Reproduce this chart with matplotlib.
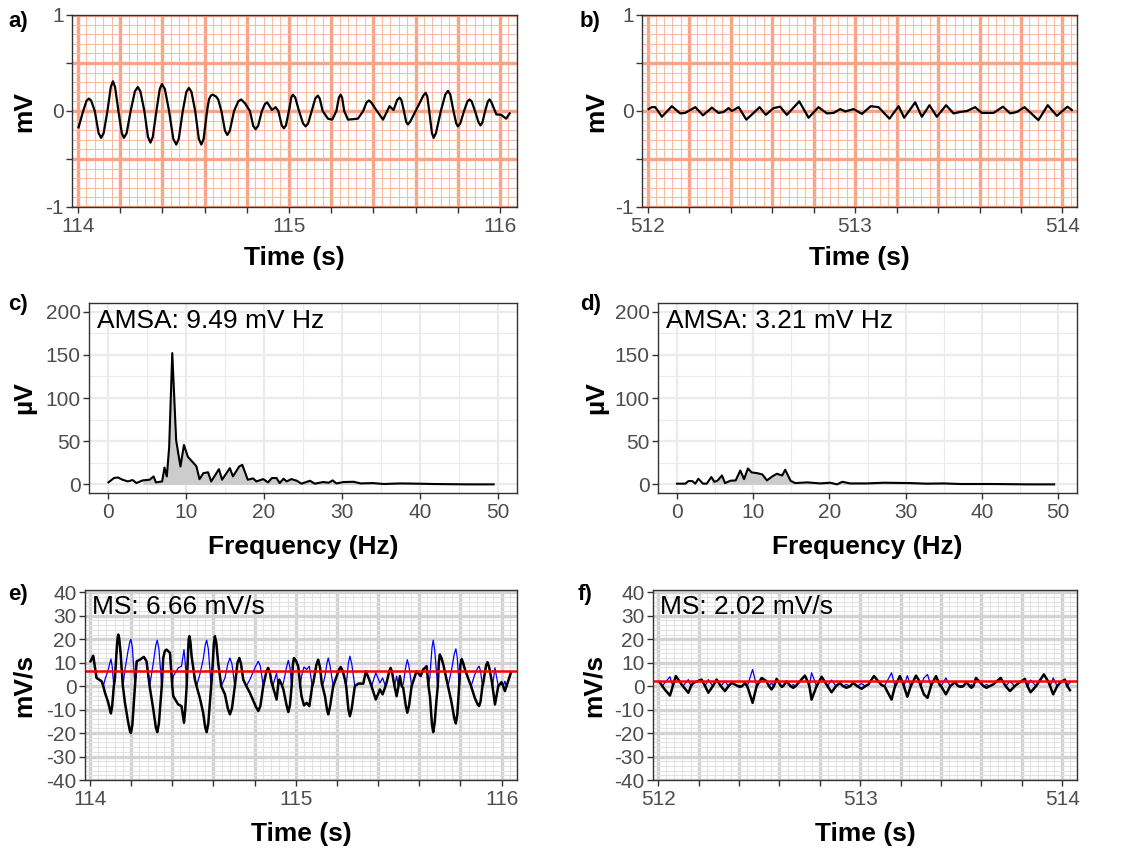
import numpy as np
import matplotlib.pyplot as plt
from matplotlib.ticker import MultipleLocator, FuncFormatter

plt.rcParams['font.family'] = ['Liberation Sans', 'DejaVu Sans']

# ---- data: (time s, value) / (frequency Hz, value) ----
# a) ECG segment 114-116 s (mV)
ecg_a = [(114.003, -0.17), (114.025, 0.0), (114.041, 0.107), (114.052, 0.13), (114.063, 0.107),
         (114.08, 0.0), (114.098, -0.23), (114.11, -0.28), (114.122, -0.23), (114.14, 0.0),
         (114.156, 0.25), (114.166, 0.31), (114.176, 0.25), (114.192, 0.0), (114.208, -0.23),
         (114.218, -0.28), (114.231, -0.23), (114.25, 0.0), (114.27, 0.205), (114.284, 0.25),
         (114.296, 0.205), (114.315, 0.0), (114.332, -0.27), (114.344, -0.33), (114.355, -0.27),
         (114.372, 0.0), (114.388, 0.23), (114.398, 0.28), (114.412, 0.23), (114.432, 0.0),
         (114.452, -0.29), (114.466, -0.35), (114.478, -0.29), (114.497, 0.0), (114.514, 0.2),
         (114.526, 0.24), (114.538, 0.2), (114.556, 0.0), (114.573, -0.29), (114.585, -0.35),
         (114.596, -0.29), (114.612, 0.0), (114.621, 0.12), (114.63, 0.16), (114.64, 0.17),
         (114.655, 0.15), (114.665, 0.12), (114.68, 0.0), (114.697, -0.205), (114.708, -0.25),
         (114.72, -0.205), (114.74, 0.0), (114.76, 0.1), (114.774, 0.12), (114.792, 0.08),
         (114.815, 0.0), (114.831, -0.155), (114.842, -0.19), (114.854, -0.155), (114.872, 0.0),
         (114.887, 0.075), (114.897, 0.09), (114.92, 0.01), (114.937, 0.04), (114.95, 0.0),
         (114.966, -0.15), (114.976, -0.18), (114.986, -0.15), (115.0, 0.0), (115.011, 0.14),
         (115.019, 0.17), (115.03, 0.14), (115.048, 0.0), (115.067, -0.13), (115.079, -0.16),
         (115.091, -0.13), (115.108, 0.0), (115.125, 0.13), (115.137, 0.16), (115.146, 0.13),
         (115.16, 0.0), (115.185, -0.08), (115.205, -0.09), (115.225, 0.0), (115.237, 0.14),
         (115.245, 0.17), (115.252, 0.14), (115.262, 0.0), (115.28, -0.09), (115.327, -0.08),
         (115.352, 0.0), (115.368, 0.09), (115.379, 0.11), (115.39, 0.09), (115.414, 0.01),
         (115.446, -0.09), (115.477, 0.05), (115.496, 0.01), (115.513, 0.115), (115.524, 0.14),
         (115.533, 0.115), (115.545, 0.0), (115.556, -0.115), (115.564, -0.14), (115.575, -0.11),
         (115.611, 0.045), (115.637, 0.16), (115.648, 0.19), (115.656, 0.15), (115.665, 0.0),
         (115.678, -0.23), (115.686, -0.28), (115.697, -0.23), (115.72, 0.0), (115.741, 0.17),
         (115.754, 0.21), (115.765, 0.17), (115.78, 0.0), (115.793, -0.13), (115.801, -0.16),
         (115.812, -0.13), (115.83, 0.0), (115.846, 0.1), (115.856, 0.12), (115.866, 0.1),
         (115.882, 0.0), (115.899, -0.12), (115.908, -0.15), (115.917, -0.12), (115.93, 0.0),
         (115.943, 0.1), (115.951, 0.12), (115.96, 0.09), (115.983, -0.035), (116.006, -0.04),
         (116.03, -0.08), (116.046, -0.025)]

# b) ECG segment 512-514 s (mV)
ecg_b = [(512.005, 0.02), (512.02, 0.04), (512.037, 0.04), (512.069, -0.06), (512.117, 0.05),
         (512.157, -0.025), (512.181, -0.02), (512.23, 0.04), (512.267, -0.045), (512.31, 0.035),
         (512.342, -0.02), (512.366, -0.01), (512.39, 0.03), (512.406, 0.0), (512.439, 0.04),
         (512.476, -0.09), (512.511, -0.02), (512.54, 0.04), (512.57, -0.04), (512.607, 0.03),
         (512.639, 0.045), (512.671, -0.04), (512.731, 0.10), (512.776, -0.07), (512.824, 0.04),
         (512.864, -0.025), (512.896, -0.02), (512.929, 0.02), (512.953, -0.005), (512.993, 0.02),
         (513.033, -0.03), (513.076, 0.05), (513.113, 0.04), (513.166, -0.08), (513.21, 0.05),
         (513.237, -0.07), (513.29, 0.09), (513.322, -0.06), (513.359, 0.06), (513.394, -0.06),
         (513.439, 0.06), (513.475, -0.025), (513.507, -0.01), (513.54, 0.0), (513.579, 0.04),
         (513.611, -0.02), (513.668, -0.02), (513.713, 0.045), (513.748, -0.025), (513.78, -0.01),
         (513.817, 0.04), (513.884, -0.095), (513.929, 0.06), (513.973, -0.05), (514.024, 0.045),
         (514.045, 0.01)]

# c) amplitude spectrum of a (uV)
spec_c = [(0.0, 2.3), (0.7, 7.3), (1.2, 8.0), (1.8, 5.4), (2.5, 3.4), (3.1, 5.0), (3.6, 1.5),
          (4.4, 4.6), (5.3, 5.4), (5.8, 9.2), (6.1, 2.3), (6.9, 3.4), (7.2, 19.5), (7.5, 9.2),
          (7.8, 43.0), (8.2, 152.0), (8.7, 51.0), (9.25, 20.7), (9.7, 45.6), (10.2, 32.0),
          (10.8, 26.0), (11.3, 21.0), (11.7, 6.0), (12.2, 13.0), (12.8, 14.0), (13.2, 3.4),
          (14.2, 17.6), (14.6, 5.4), (15.6, 18.8), (16.0, 9.2), (16.8, 20.7), (17.2, 22.6),
          (17.9, 5.4), (18.6, 6.9), (19.0, 3.4), (19.9, 6.1), (20.5, 2.3), (21.0, 7.3),
          (21.6, 7.3), (22.0, 1.5), (22.5, 6.5), (22.9, 3.4), (23.5, 6.1), (24.2, 4.2),
          (24.8, 0.8), (25.9, 4.2), (26.5, 0.8), (27.6, 2.7), (28.3, 1.9), (28.8, 4.6),
          (29.3, 1.1), (30.2, 2.7), (31.5, 3.0), (32.4, 1.1), (34.0, 1.5), (35.4, 0.4),
          (37.5, 1.1), (39.7, 0.8), (41.8, 0.4), (46.1, 0.0), (49.5, 0.0)]

# d) amplitude spectrum of b (uV)
spec_d = [(0.0, 0.8), (1.1, 0.8), (1.5, 3.8), (2.0, 3.8), (2.4, 0.8), (2.8, 6.5), (3.4, 0.8),
          (3.9, 0.8), (4.5, 8.4), (4.9, 3.0), (5.3, 4.2), (5.9, 10.3), (6.3, 1.5), (7.0, 4.2),
          (7.7, 4.6), (8.3, 16.0), (8.8, 6.1), (9.3, 18.4), (9.8, 13.8), (10.5, 13.0),
          (11.2, 11.5), (11.8, 4.6), (12.5, 9.2), (13.1, 12.3), (13.8, 10.3), (14.2, 16.9),
          (14.9, 4.2), (15.5, 1.5), (17.1, 2.3), (18.8, 1.1), (20.1, 1.9), (21.0, 0.0),
          (21.7, 3.0), (22.7, 1.1), (24.9, 1.1), (27.1, 1.9), (30.6, 1.5), (32.8, 0.8),
          (35.0, 1.1), (37.2, 0.4), (41.6, 0.4), (45.9, 0.0), (49.5, 0.0)]

# e) slope of a (mV/s)
slope_e = [(114.003, 10.6), (114.016, 13.0), (114.032, 3.5), (114.057, 2.1), (114.065, 0.0),
           (114.073, -2.8), (114.089, -7.0), (114.097, -10.0), (114.102, -11.6), (114.108, -8.5),
           (114.116, 0.0), (114.121, 2.8), (114.131, 17.0), (114.135, 21.0), (114.138, 22.0),
           (114.142, 20.5), (114.149, 14.0), (114.16, 0.0), (114.17, -7.0), (114.185, -15.0),
           (114.194, -19.0), (114.199, -20.0), (114.206, -16.5), (114.219, 0.0), (114.227, 10.6),
           (114.243, 11.3), (114.262, 12.5), (114.275, 10.6), (114.29, 0.0), (114.308, -10.0),
           (114.32, -17.5), (114.327, -19.6), (114.335, -16.0), (114.343, -7.0), (114.349, 0.0),
           (114.356, 12.0), (114.364, 15.0), (114.372, 15.6), (114.389, 14.2), (114.4, 0.0),
           (114.405, -4.3), (114.429, -7.8), (114.445, -8.5), (114.452, -12.5), (114.457, -15.6),
           (114.463, -10.0), (114.47, 0.0), (114.477, 15.0), (114.48, 20.0), (114.483, 21.3),
           (114.488, 19.0), (114.494, 12.8), (114.51, 2.8), (114.518, 0.0), (114.534, -5.0),
           (114.55, -11.3), (114.56, -17.5), (114.567, -19.6), (114.575, -16.0), (114.583, -7.0),
           (114.589, 0.0), (114.596, 8.5), (114.602, 18.0), (114.607, 21.3), (114.614, 18.5),
           (114.623, 10.0), (114.638, 0.0), (114.656, -3.5), (114.67, -9.5), (114.68, -12.0),
           (114.69, -9.5), (114.704, 0.0), (114.717, 10.0), (114.726, 12.0), (114.734, 9.5),
           (114.745, 2.8), (114.76, 0.0), (114.777, -2.8), (114.805, -8.5), (114.818, -10.6),
           (114.828, -8.5), (114.842, 0.0), (114.858, 6.5), (114.866, 7.8), (114.875, 5.5),
           (114.883, 1.4), (114.888, 0.0), (114.907, -5.7), (114.914, 0.0), (114.92, 2.8),
           (114.93, 1.0), (114.934, 0.0), (114.94, -1.4), (114.955, -8.0), (114.964, -11.0),
           (114.972, -8.0), (114.98, 0.0), (114.986, 9.0), (114.991, 12.0), (115.0, 11.0),
           (115.012, 8.5), (115.022, 0.0), (115.028, -4.3), (115.04, -8.2), (115.053, -7.1),
           (115.066, -8.5), (115.08, 0.0), (115.085, 1.4), (115.1, 9.0), (115.109, 11.3),
           (115.118, 8.0), (115.126, 1.4), (115.13, 0.0), (115.142, -4.3), (115.152, -10.0),
           (115.158, -12.0), (115.166, -9.0), (115.182, 0.0), (115.21, 7.0), (115.218, 8.2),
           (115.228, 6.5), (115.239, 2.8), (115.245, 0.0), (115.256, -10.0), (115.263, -12.8),
           (115.272, -9.5), (115.287, 0.0), (115.304, 1.1), (115.328, 1.1), (115.341, 6.4),
           (115.36, 2.1), (115.368, 0.0), (115.389, -5.7), (115.409, -1.4), (115.422, -3.5),
           (115.436, 0.0), (115.441, 1.4), (115.455, 6.5), (115.461, 7.8), (115.468, 6.0),
           (115.474, 2.8), (115.48, 0.0), (115.49, -4.3), (115.499, 0.0), (115.506, 4.3),
           (115.515, 0.0), (115.522, -0.7), (115.535, -8.5), (115.542, -11.3), (115.55, -8.5),
           (115.563, 0.0), (115.587, 6.4), (115.607, 4.3), (115.619, 7.1), (115.636, 8.5),
           (115.645, 0.0), (115.652, -4.3), (115.662, -16.5), (115.668, -19.6), (115.675, -15.5),
           (115.684, -5.7), (115.69, 0.0), (115.695, 10.0), (115.7, 13.5), (115.708, 12.0),
           (115.717, 9.2), (115.733, 2.8), (115.74, 0.0), (115.757, -7.0), (115.771, -14.0),
           (115.778, -15.9), (115.785, -12.0), (115.794, 0.0), (115.8, 9.0), (115.806, 11.6),
           (115.813, 10.0), (115.822, 7.1), (115.846, 1.4), (115.852, 0.0), (115.87, -5.0),
           (115.884, -7.8), (115.891, -8.5), (115.898, -6.5), (115.907, 0.0), (115.911, 1.4),
           (115.925, 9.0), (115.932, 10.2), (115.94, 8.0), (115.951, 2.8), (115.956, 0.0),
           (115.968, -7.8), (115.984, 0.0), (116.0, 1.7), (116.008, 0.0), (116.016, -2.1),
           (116.024, 0.0), (116.044, 5.4)]

# f) slope of b (mV/s)
slope_f = [(512.008, 1.7), (512.02, 0.0), (512.033, -1.5), (512.058, -4.0), (512.072, 0.0),
           (512.087, 4.3), (512.116, 0.7), (512.122, 0.0), (512.149, -2.8), (512.162, 0.0),
           (512.173, 1.4), (512.215, 2.8), (512.232, 0.0), (512.248, -2.8), (512.27, 0.0),
           (512.289, 2.8), (512.31, 0.0), (512.33, -2.1), (512.348, 0.0), (512.363, 1.4),
           (512.38, 0.7), (512.395, 0.0), (512.404, -0.3), (512.415, 0.0), (512.429, 1.4),
           (512.44, 0.0), (512.446, -1.4), (512.467, -7.1), (512.487, 0.0), (512.512, 3.5),
           (512.536, 2.1), (512.548, 0.0), (512.561, -1.4), (512.572, 0.0), (512.586, 3.1),
           (512.608, 0.0), (512.611, -0.3), (512.618, 0.0), (512.635, 2.1), (512.655, 0.0),
           (512.668, -0.7), (512.68, 0.0), (512.701, 2.1), (512.726, 4.5), (512.743, 1.4),
           (512.748, 0.0), (512.759, -5.7), (512.784, 0.0), (512.809, 4.0), (512.833, 0.7),
           (512.838, 0.0), (512.858, -2.6), (512.88, 0.0), (512.899, 1.4), (512.915, 0.0),
           (512.932, -0.7), (512.95, 0.0), (512.965, 1.4), (512.985, 0.0), (513.007, -1.1),
           (513.025, 0.0), (513.04, 0.7), (513.068, 4.3), (513.089, 2.1), (513.105, 0.5),
           (513.12, 0.0), (513.155, -5.7), (513.172, 0.0), (513.177, 0.7), (513.196, 4.3),
           (513.21, 1.5), (513.216, 0.0), (513.233, -4.5), (513.25, 0.0), (513.254, 0.7),
           (513.276, 4.5), (513.29, 2.5), (513.3, 0.0), (513.315, -3.5), (513.333, -5.0),
           (513.35, 0.0), (513.353, 0.7), (513.375, 4.3), (513.395, 0.3), (513.4, 0.0),
           (513.424, -3.5), (513.445, 0.0), (513.469, 1.7), (513.485, 0.0), (513.5, -0.3),
           (513.51, 0.0), (513.526, 1.7), (513.542, 0.0), (513.55, -0.7), (513.56, 0.0),
           (513.573, 3.5), (513.596, 1.4), (513.61, 0.0), (513.625, -0.7), (513.64, 0.0),
           (513.657, 0.7), (513.695, 3.5), (513.72, 0.0), (513.741, -2.1), (513.765, 0.0),
           (513.774, 0.7), (513.815, 3.1), (513.828, 0.0), (513.843, -2.6), (513.87, 0.0),
           (513.909, 5.0), (513.93, 2.1), (513.94, 0.0), (513.955, -3.5), (513.975, 0.0),
           (513.988, 1.4), (514.013, 2.8), (514.025, 0.0), (514.038, -1.7)]

amsa_c, amsa_d = 9.49, 3.21
ms_e, ms_f = 6.66, 2.02

# ---- figure ----
W, H = 1130, 852
fig = plt.figure(figsize=(W / 100, H / 100), dpi=100)

TICK_COL = '#4D4D4D'
EDGE_COL = '#333333'


def axes_px(l, t, r, b):
    return fig.add_axes([l / W, 1 - b / H, (r - l) / W, (b - t) / H])


def fig_xy(x, y):
    return x / W, 1 - y / H


def int_only(v, pos):
    return f'{v:.0f}' if abs(v - round(v)) < 1e-6 else ''


def style(ax, xlabel, ylabel, ylab_x, xlab_y):
    for s in ax.spines.values():
        s.set_color(EDGE_COL)
        s.set_linewidth(1.0)
    ax.tick_params(which='major', length=4, width=1, color=EDGE_COL,
                   labelcolor=TICK_COL, labelsize=15, pad=2)
    ax.tick_params(axis='x', which='major', pad=3)
    ax.tick_params(which='minor', length=0)
    ax.set_axisbelow(True)
    ax.set_xlabel(xlabel, fontsize=19, fontweight='bold')
    ax.set_ylabel(ylabel, fontsize=19, fontweight='bold', va='center')
    bb = ax.get_position()
    ax.xaxis.set_label_coords((bb.x0 + bb.x1) / 2, 1 - xlab_y / H, transform=fig.transFigure)
    ax.yaxis.set_label_coords(ylab_x / W, (bb.y0 + bb.y1) / 2, transform=fig.transFigure)


def paper_grid(ax, xmaj, xmin, ymaj, ymin, major_col, minor_col):
    ax.xaxis.set_major_locator(MultipleLocator(xmaj))
    ax.xaxis.set_minor_locator(MultipleLocator(xmin))
    ax.yaxis.set_major_locator(MultipleLocator(ymaj))
    ax.yaxis.set_minor_locator(MultipleLocator(ymin))
    ax.grid(which='minor', color=minor_col, lw=0.8)
    ax.grid(which='major', color=major_col, lw=2.4)


# a) and b): ECG on salmon paper
for ax_box, trace, tag, tag_x, xlim in [
        ((72, 15, 517, 207), ecg_a, 'a)', 8, (113.972, 116.081)),
        ((642, 15, 1077, 207), ecg_b, 'b)', 580, (511.973, 514.07))]:
    ax = axes_px(*ax_box)
    t, v = zip(*trace)
    ax.plot(t, v, color='black', lw=1.6, solid_joinstyle='round')
    ax.set_xlim(*xlim)
    ax.set_ylim(-1, 1)
    paper_grid(ax, 0.2, 0.04, 0.5, 0.1, '#FBA385', '#FBBBA5')
    ax.xaxis.set_major_formatter(FuncFormatter(int_only))
    ax.yaxis.set_major_formatter(FuncFormatter(int_only))
    style(ax, 'Time (s)', 'mV', tag_x + 16, 246)
    fig.text(*fig_xy(tag_x, 27), tag, fontsize=16, fontweight='bold', va='baseline')

# c) and d): spectra
for ax_box, spec, tag, tag_x, label in [
        ((89, 303, 517, 493), spec_c, 'c)', 8, f'AMSA: {amsa_c:.2f} mV Hz'),
        ((658, 303, 1077, 493), spec_d, 'd)', 580, f'AMSA: {amsa_d:.2f} mV Hz')]:
    ax = axes_px(*ax_box)
    f, a = (np.array(c) for c in zip(*spec))
    band = (f >= 4) & (f <= 48)
    ax.fill_between(f, 0, a, where=band, color='#CCCCCC', lw=0)
    ax.plot(f, a, color='black', lw=1.5, solid_joinstyle='round')
    ax.set_xlim(-2.5, 52.5)
    ax.set_ylim(-10, 210)
    ax.xaxis.set_major_locator(MultipleLocator(10))
    ax.xaxis.set_minor_locator(MultipleLocator(5))
    ax.yaxis.set_major_locator(MultipleLocator(50))
    ax.yaxis.set_minor_locator(MultipleLocator(25))
    ax.grid(which='major', color='#EBEBEB', lw=1.6)
    ax.grid(which='minor', color='#EBEBEB', lw=0.8)
    style(ax, 'Frequency (Hz)', 'µV', tag_x + 16, 535)
    fig.text(*fig_xy(ax_box[0] + 8, 328), label, fontsize=19, ha='left', va='baseline')
    fig.text(*fig_xy(tag_x, 310), tag, fontsize=16, fontweight='bold', va='baseline')

# e) and f): slopes on gray paper, |slope| in blue, mean slope in red
for ax_box, trace, ms, tag, tag_x, xlim in [
        ((85, 590, 517, 780), slope_e, ms_e, 'e)', 8, (113.976, 116.075)),
        ((653, 590, 1077, 780), slope_f, ms_f, 'f)', 578, (511.974, 514.073))]:
    ax = axes_px(*ax_box)
    t, v = zip(*trace)
    v = np.array(v)
    ax.plot(t, np.abs(v), color='#0000FF', lw=0.9)
    ax.plot(t, v, color='black', lw=1.8, solid_joinstyle='round')
    ax.axhline(ms, color='#FF0000', lw=1.8)
    ax.set_xlim(*xlim)
    ax.set_ylim(-40, 41)
    paper_grid(ax, 0.2, 0.04, 10, 2, '#D3D3D3', '#E3E3E3')
    ax.xaxis.set_major_formatter(FuncFormatter(int_only))
    ax.yaxis.set_major_formatter(FuncFormatter(lambda x, p: f'{x:.0f}'))
    style(ax, 'Time (s)', 'mV/s', tag_x + 16, 822)
    fig.text(*fig_xy(ax_box[0] + 7, 614), f'MS: {ms:.2f} mV/s', fontsize=19,
             ha='left', va='baseline')
    fig.text(*fig_xy(tag_x, 600), tag, fontsize=16, fontweight='bold', va='baseline')

fig.savefig('out.png', dpi=100)
